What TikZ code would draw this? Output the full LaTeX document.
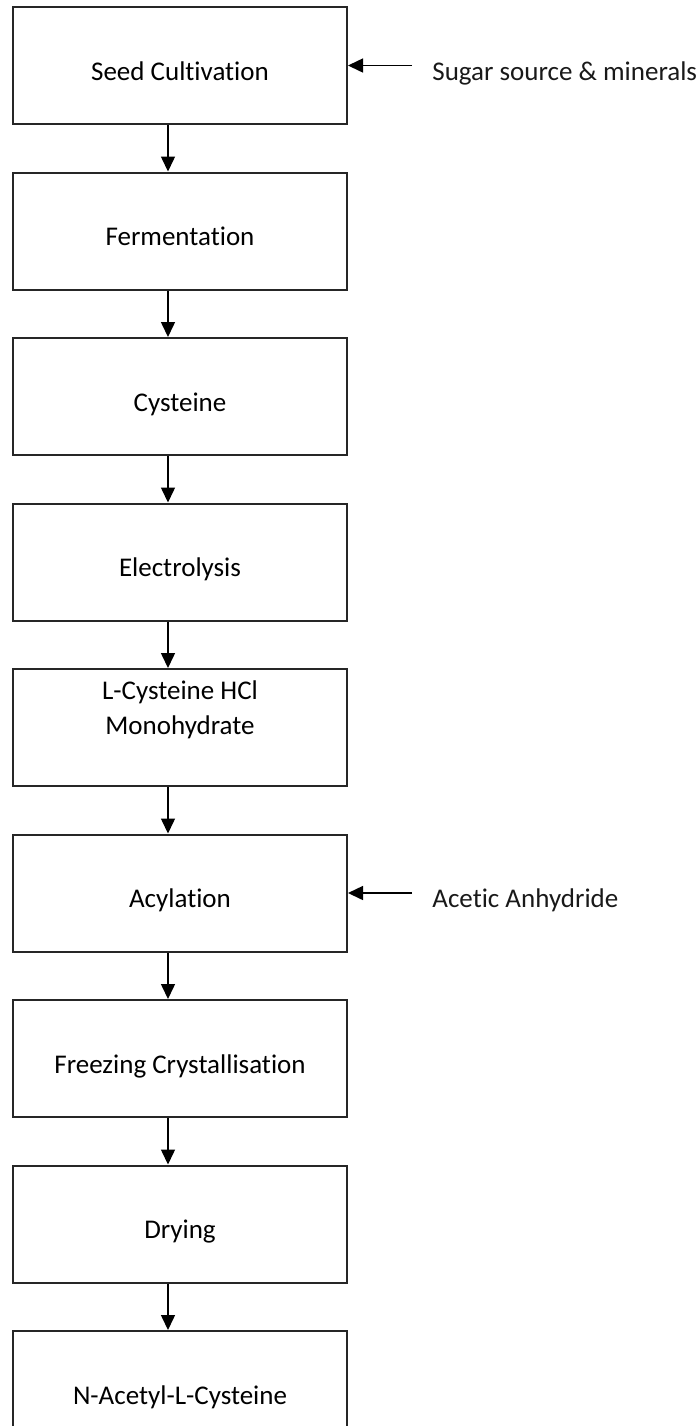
\documentclass[tikz,border=0pt]{standalone}
\usepackage{fontspec}
\setmainfont{Carlito}[Ligatures=NoCommon]
\usetikzlibrary{positioning}
\usetikzlibrary{arrows.meta}
\tikzset{
        stepnode/.style={align=center,inner sep=0pt},
        % Process steps
        node_step/.style={stepnode, rectangle, draw=black!85, line width=1pt, minimum width=167pt, minimum height=58.5pt},
        % Process steps with one line of text
        node_step_one/.style={node_step, text height=14.7pt, text depth=0pt},
        % Materials fed into a step
        node_input/.style={stepnode, rectangle, text=black!90, text height=14.7pt, text depth=0pt},
        % Arrows
        flow/.style={-{Triangle[length=7.5pt,width=7pt]}, line width=0.75pt}
}

\begin{document}
\begin{tikzpicture}[
            node distance=23.25pt,
            font=\fontsize{13.5}{17.5}\selectfont
        ]
            \useasboundingbox (0,0) rectangle (348pt,-713pt);
            \node[node_step_one, anchor=north west] (seed) at (6pt,-3pt) {Seed Cultivation};
            \node[node_step_one, below=of seed] (ferm) {Fermentation};
            \node[node_step_one, below=of ferm] (cyst) {Cysteine};
            \node[node_step_one, below=of cyst] (elec) {Electrolysis};
            \node[node_step, below=of elec] (hcl) {L-Cysteine HCl\\Monohydrate\\[2pt]~};
            \node[node_step_one, below=of hcl] (acyl) {Acylation};
            \node[node_step_one, below=of acyl] (freeze) {Freezing Crystallisation};
            \node[node_step_one, below=of freeze] (dry) {Drying};
            \node[node_step_one, below=of dry] (nac) {N-Acetyl-L-Cysteine};

            \node[node_input, right=42pt of seed, anchor=west] (sugar) {Sugar source \& minerals};
            \node[node_input, right=42pt of acyl, anchor=west] (anhyd) {Acetic Anhydride};

            \foreach \a/\b in {seed/ferm, ferm/cyst, cyst/elec, elec/hcl, hcl/acyl, acyl/freeze, freeze/dry, dry/nac}
                \draw[flow] ([xshift=-6pt]\a.south) -- ([xshift=-6pt]\b.north);

            \draw[flow, shorten <=10pt] (sugar.west) -- (seed.east);
            \draw[flow, shorten <=10pt] (anhyd.west) -- (acyl.east);
        \end{tikzpicture}
\end{document}
